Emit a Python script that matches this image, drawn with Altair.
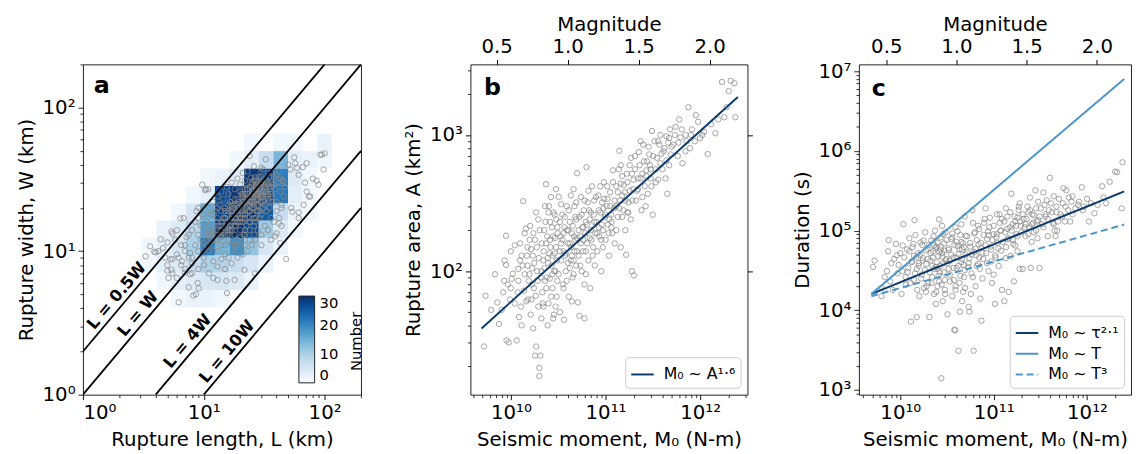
import altair as alt
import pandas as pd

FONT = "DejaVu Sans"
GREY = "#8a8a8a"
DARK = "#0c3b6e"
LIGHT = "#4a95c9"

# ---------------- Panel a : rupture length / width ----------------
bin_edges = [3.07, 4.06, 5.36, 7.08, 9.35, 12.36, 16.33, 21.58, 28.51, 37.67, 49.77, 65.77, 86.90, 114.8]
# counts[row][col]; rows from W=4.06 upward (bin_edges[1..11]), cols from L=3.07 (bin_edges[0..13])
hist_counts = [
    [0, 0, 1, 2, 2, 1, 0, 0, 0, 0, 0, 0, 0],
    [0, 1, 3, 4, 5, 5, 4, 2, 0, 0, 0, 0, 0],
    [1, 3, 4, 7, 10, 9, 7, 5, 2, 0, 0, 0, 0],
    [1, 3, 5, 10, 22, 14, 19, 12, 5, 2, 0, 0, 0],
    [0, 2, 4, 9, 17, 29, 30, 27, 11, 4, 1, 0, 0],
    [0, 0, 1, 5, 15, 28, 30, 30, 25, 7, 2, 1, 0],
    [0, 0, 0, 1, 3, 27, 29, 30, 28, 22, 3, 1, 0],
    [0, 0, 0, 0, 1, 2, 4, 29, 27, 21, 4, 1, 0],
    [0, 0, 0, 0, 0, 0, 1, 3, 7, 14, 3, 2, 1],
    [0, 0, 0, 0, 0, 0, 0, 1, 0, 1, 1, 0, 2],
]

a_L = ([4.4, 3.9, 4.2, 6.2, 8.2, 8.6, 15.6, 48, 95, 100, 98, 71, 80, 74, 67, 61, 26, 24, 9.7, 10.4, 6.4, 6.8, 5.4, 5.3]
       + [5.1, 8.9, 9.1, 7.5, 12, 13, 15.4, 18, 21.7, 26.5, 43, 39, 40, 44, 42, 54, 53, 61, 76, 71,
          69, 86, 92, 56, 57, 59, 66, 50, 52, 43, 45, 89, 61, 32.6, 30, 31, 24.6, 26.5, 10.3, 10.9,
          8.7, 9.0, 5.5, 4.0, 5.5, 6.2, 6.6, 7.7, 5.0, 5.4, 7.0, 7.7]
       + [8, 8.5, 9, 9.5, 10, 10, 10.5, 11, 11, 11.5, 12, 12, 12.5, 13, 13, 13.5, 14, 14, 14.5, 15,
          15, 15.5, 16, 16, 16.5, 17, 17, 17.5, 18, 18, 18.5, 19, 19, 19.5, 20, 20, 20.5, 21, 21, 21.5,
          22, 22, 22.5, 23, 23, 23.5, 24, 24, 24.5, 25, 25, 25.5, 26, 26, 26.5, 27, 27, 27.5, 28, 28,
          28.5, 29, 29, 29.5, 30, 30, 31, 31, 32, 32, 33, 33, 34, 34, 35, 35, 36, 37, 38, 39,
          40, 41, 42, 43, 44, 45, 46, 47]
       + [7, 7.5, 8, 8.5, 9, 9, 9.5, 10, 10.5, 11, 11.5, 12, 12.5, 13, 13.5, 14, 14.5, 15, 15.5, 16,
          16.5, 17, 18, 19, 20, 21, 22, 23]
       + [9, 10, 11, 12, 13, 14, 15, 16, 17, 18, 19, 20, 21, 22, 23, 24, 25, 26, 27, 28,
          30, 32, 34, 36, 38, 40, 42, 44, 36, 30]
       + [5, 5.5, 6, 6.5, 7, 7, 7.5, 8, 8, 6, 4.6, 5, 5.8, 6.5, 7.2, 6, 4.8, 3.6, 3.3]
       + [12, 13, 14, 15, 16, 17, 18, 19, 20, 21, 22, 23, 24, 25, 26, 27, 28, 29, 30, 31,
          32, 33, 34, 35, 36, 38, 40, 13, 15, 17, 19, 21, 23, 25, 27, 29, 31, 33, 35, 37]
       + [11, 12, 13, 14, 15, 16, 17, 18, 19, 20, 21, 22, 23, 24, 25, 26, 27, 28, 29, 30,
          14, 16, 18, 20, 22, 24, 26, 28, 30, 32, 10, 12, 14, 16, 18, 20, 22, 24, 26, 34]
       + [10.5, 11.5, 12.5, 13.5, 14.5, 15.5, 16.5, 17.5, 18.5, 19.5,
          20.5, 21.5, 22.5, 23.5, 24.5, 25.5, 26.5, 27.5, 28.5, 29.5,
          11, 13, 15, 17, 19, 21, 23, 25, 27, 29,
          12, 14, 16, 18, 20, 22, 24, 26, 28, 30,
          31, 33, 35, 32, 34, 36, 30, 28, 26, 24,
          13, 15, 17, 19, 21, 23, 25, 27, 22, 18])
a_W = ([12.1, 9.9, 10.0, 4.4, 4.9, 5.0, 5.1, 8.8, 47, 48, 37, 41, 32, 24, 21, 18.6, 39, 46, 29, 27, 16.9, 17, 13.7, 8.8]
       + [6.5, 6.0, 5.5, 5.6, 6.5, 6.3, 6.2, 6.3, 7.4, 7.0, 11.4, 12.7, 13.3, 15, 15.6, 18.8, 20, 17, 24, 26,
          30, 31, 47, 45, 41, 38, 38.5, 40, 37, 32, 31, 29, 34, 43.6, 38, 37, 32.6, 32.6, 26.6, 27,
          19, 20, 13.2, 9.8, 8.8, 9.0, 8.5, 9.7, 7.3, 7.4, 7.1, 6.9]
       + [9, 11, 10, 12, 9, 11.5, 13, 10, 14, 12, 11, 15, 13, 10, 16, 12.5, 14, 11, 17, 13,
          9.5, 15, 12, 18, 14, 16, 11, 20, 13, 17, 15, 19, 12, 22, 14, 17, 25, 16, 20, 13,
          18, 23, 15, 21, 27, 17, 19, 14, 24, 22, 30, 18, 20, 26, 16, 23, 29, 19, 25, 21,
          33, 17, 27, 22, 24, 30, 20, 26, 28, 23, 31, 19, 25, 35, 27, 22, 30, 24, 33, 27,
          22, 30, 36, 26, 20, 31, 24, 28]
       + [11, 13, 14, 16, 13, 17, 15, 18, 16, 20, 18, 22, 19, 24, 21, 26, 23, 20, 28, 25,
          22, 30, 27, 32, 29, 35, 31, 36]
       + [7.5, 8, 7, 8.5, 7.8, 8.8, 7.5, 9, 8.2, 10, 9, 11, 9.5, 11, 10, 12, 11, 13, 12, 14,
          13, 15, 14, 17, 16, 19, 17, 21, 12, 11]
       + [8, 7, 9.5, 8, 10, 7.5, 9, 7, 8.2, 6.5, 10.5, 11.5, 12, 11, 12.5, 14, 9, 10.8, 9.2]
       + [18, 20, 19, 17, 21, 19, 23, 21, 26, 24, 27, 25, 28, 26, 31, 28, 30, 25, 33, 29,
          32, 27, 30, 33, 26, 29, 34, 13, 11, 14, 16, 18, 19, 20, 17, 19, 22, 24, 20, 22]
       + [12.5, 14, 12, 16, 14.5, 13, 17.5, 15, 18, 16, 21, 17, 22, 19, 24, 21, 25, 23, 28, 26,
          15, 19, 21, 18, 25, 22, 27, 24, 29, 26, 10.5, 10, 12.5, 14.5, 11, 12.5, 14, 16, 15, 29]
       + [11, 13, 12, 15, 13.5, 16, 15, 18, 17, 20,
          19, 22, 20, 24, 22, 26, 24, 28, 26, 30,
          14, 15, 17, 19, 20, 22, 23, 25, 27, 28,
          12, 13, 14, 16, 16, 18, 21, 22, 23, 25,
          24, 26, 28, 21, 23, 25, 18, 19, 17, 16,
          17, 19, 21, 23, 25, 27, 29, 31, 13, 11])

# aspect-ratio reference lines  (L = ratio * W)
ratio_names = ["L = 0.5W", "L = W", "L = 4W", "L = 10W"]
ratios = [0.5, 1, 4, 10]
ratio_L_start = [1, 1, 4, 10]
ratio_L_end = [100, 200, 200, 200]
ratio_label_L = [2.2, 3.3, 8.5, 18]

# ---------------- Panel b : moment vs area ----------------
b_M0 = ([5.2e9, 5.4e9, 6.2e9, 7.2e9, 6.8e9, 7.5e9, 8.0e9, 8.3e9, 8.6e9, 8.9e9, 8.9e9, 8.5e9]
        + [9.0e9, 9.5e9, 1.0e10, 1.0e10, 1.05e10, 1.1e10, 1.15e10, 1.2e10, 9.8e9, 1.02e10, 1.1e10, 1.18e10, 1.22e10, 9.3e9, 1.25e10]
        + [1.3e10, 1.35e10, 1.4e10, 1.45e10, 1.5e10, 1.55e10, 1.6e10, 1.62e10, 1.7e10, 1.75e10, 1.8e10, 1.85e10, 1.9e10,
           1.95e10, 1.4e10, 1.5e10, 1.65e10, 1.72e10, 1.8e10, 2.0e10, 1.95e10, 1.3e10, 1.85e10, 1.58e10, 1.68e10]
        + [2.0e10, 2.05e10, 2.1e10, 2.15e10, 2.2e10, 2.25e10, 2.3e10, 2.35e10, 2.4e10, 2.45e10, 2.5e10, 2.55e10, 2.6e10,
           2.65e10, 2.7e10, 2.75e10, 2.8e10, 2.85e10, 2.9e10, 2.95e10, 3.0e10, 3.05e10, 3.1e10, 2.2e10, 2.3e10, 2.45e10,
           2.6e10, 2.75e10, 2.9e10, 3.1e10, 2.35e10, 2.5e10, 2.1e10, 2.8e10, 3.0e10]
        + [3.2e10, 3.3e10, 3.35e10, 3.4e10, 3.5e10, 3.55e10, 3.6e10, 3.65e10, 3.7e10, 3.8e10, 3.9e10, 4.0e10, 4.1e10,
           4.2e10, 4.3e10, 4.4e10, 4.5e10, 4.6e10, 4.7e10, 4.8e10, 4.9e10, 5.0e10, 3.4e10, 3.75e10, 4.05e10, 4.35e10,
           4.65e10, 3.9e10, 4.4e10, 3.3e10, 4.9e10, 3.6e10, 4.2e10, 4.6e10, 5.0e10]
        + [5.1e10, 5.2e10, 5.3e10, 5.4e10, 5.5e10, 5.6e10, 5.7e10, 5.8e10, 5.9e10, 6.0e10, 6.1e10, 6.2e10, 6.3e10,
           6.4e10, 6.5e10, 6.6e10, 6.8e10, 6.9e10, 7.0e10, 7.2e10, 7.4e10, 7.5e10, 7.7e10, 7.8e10, 5.3e10, 6.0e10,
           5.5e10, 6.7e10, 7.1e10, 7.6e10, 5.8e10, 6.2e10]
        + [8.0e10, 8.2e10, 8.4e10, 8.6e10, 8.8e10, 9.0e10, 9.2e10, 9.4e10, 9.6e10, 9.8e10, 1.0e11, 1.03e11, 1.06e11,
           1.09e11, 1.12e11, 1.15e11, 1.18e11, 1.2e11, 1.23e11, 1.25e11, 8.5e10, 9.5e10, 1.05e11, 1.15e11, 9.0e10, 1.1e11]
        + [1.3e11, 1.35e11, 1.4e11, 1.42e11, 1.45e11, 1.5e11, 1.55e11, 1.6e11, 1.65e11, 1.7e11, 1.75e11, 1.8e11,
           1.85e11, 1.9e11, 1.95e11, 2.0e11, 1.3e11, 1.5e11, 1.7e11, 1.9e11, 1.45e11, 1.62e11, 1.38e11]
        + [2.05e11, 2.1e11, 2.2e11, 2.3e11, 2.4e11, 2.5e11, 2.6e11, 2.7e11, 2.8e11, 2.9e11, 3.0e11, 3.1e11, 2.2e11,
           2.45e11, 2.75e11, 3.05e11, 2.35e11, 2.65e11, 2.95e11, 3.15e11]
        + [3.3e11, 3.5e11, 3.6e11, 3.8e11, 4.0e11, 4.2e11, 4.4e11, 4.5e11, 4.7e11, 4.9e11, 3.4e11, 3.9e11, 4.3e11,
           4.6e11, 3.7e11, 4.8e11]
        + [5.2e11, 5.5e11, 5.8e11, 6.2e11, 6.5e11, 7.0e11, 7.5e11, 7.8e11, 6.0e11, 7.2e11]
        + [8.2e11, 8.8e11, 9.5e11, 1.0e12, 1.1e12, 1.2e12, 9.0e11, 1.05e12]
        + [1.3e12, 1.45e12, 1.55e12, 1.7e12, 1.8e12, 2.0e12, 2.1e12, 2.3e12, 2.35e12, 1.9e12]
        + [1.2e10, 1.25e10, 1.28e10, 1.33e10, 1.38e10, 1.44e10, 1.48e10, 1.52e10, 1.57e10, 1.63e10,
           1.67e10, 1.73e10, 1.77e10, 1.83e10, 1.88e10, 1.92e10, 1.97e10, 2.02e10, 2.07e10, 2.12e10,
           2.17e10, 2.22e10, 2.27e10, 2.32e10, 2.37e10, 2.42e10, 2.47e10, 2.52e10, 2.57e10, 2.62e10,
           2.67e10, 2.72e10, 2.77e10, 2.82e10, 2.87e10, 2.92e10, 2.97e10, 3.02e10, 3.07e10, 3.12e10,
           3.2e10, 3.3e10, 3.4e10, 3.5e10, 3.6e10, 3.7e10, 3.8e10, 3.9e10, 4.0e10, 4.1e10,
           4.2e10, 4.3e10, 4.4e10, 4.5e10, 4.6e10, 4.7e10, 4.8e10, 4.9e10, 5.0e10, 5.2e10,
           5.4e10, 5.6e10, 5.8e10, 6.0e10, 6.2e10, 6.4e10, 6.6e10, 6.8e10, 7.0e10, 7.3e10,
           7.6e10, 7.9e10, 8.2e10, 8.5e10, 8.8e10, 9.1e10, 9.4e10, 9.7e10, 1.0e11, 1.04e11,
           1.08e11, 1.12e11, 1.16e11, 1.2e11, 1.25e11, 1.3e11, 1.35e11, 1.4e11, 1.45e11, 1.5e11,
           1.56e11, 1.62e11, 1.68e11, 1.74e11, 1.8e11, 1.86e11, 1.92e11, 1.98e11, 2.05e11, 2.15e11,
           2.25e11, 2.35e11, 2.45e11, 2.55e11, 2.7e11, 2.85e11, 3.0e11, 3.2e11, 3.4e11, 3.6e11,
           3.8e11, 4.1e11, 4.4e11, 4.7e11, 5.0e11, 5.4e11, 5.9e11, 6.4e11, 7.0e11, 8.0e11])
b_A = ([28, 66, 52, 59, 95, 41, 52, 70, 120, 182, 111, 85]
       + [31, 30, 75, 140, 96, 58, 31, 104, 62, 88, 155, 70, 46, 80, 120]
       + [40, 327, 190, 60, 110, 85, 215, 48, 130, 75, 170, 28, 100, 240, 95, 150, 62, 38, 24, 19.5, 55, 130, 270, 170, 105]
       + [17, 24, 45, 70, 120, 200, 300, 160, 90, 40, 58, 135, 230, 350, 110, 75, 180, 48, 260, 100,
          150, 65, 210, 55, 85, 125, 170, 95, 135, 85, 435, 270, 100, 45, 400]
       + [352, 50, 180, 120, 260, 80, 140, 44, 210, 100, 300, 160, 65, 230, 120, 190, 90, 400, 140, 250,
          110, 175, 160, 130, 200, 150, 180, 85, 60, 230, 320, 190, 105, 120, 524]
       + [59, 130, 250, 180, 350, 100, 210, 140, 280, 80, 190, 230, 580, 160, 320, 120, 240, 75, 200, 420,
          150, 260, 110, 190, 47, 45, 160, 280, 170, 330, 210, 95]
       + [230, 140, 360, 180, 270, 100, 320, 200, 450, 250, 170, 300, 220, 130, 380, 260, 190, 550, 290, 160,
          210, 290, 340, 210, 170, 240]
       + [420, 250, 766, 330, 150, 500, 280, 380, 132, 450, 320, 600, 240, 100, 400, 93, 300, 360, 270, 520, 440, 200, 560]
       + [700, 330, 480, 600, 280, 850, 420, 550, 370, 720, 480, 1070, 400, 520, 640, 420, 900, 300, 600, 260]
       + [900, 680, 470, 1000, 560, 800, 650, 370, 950, 720, 560, 730, 480, 880, 850, 1100]
       + [850, 1150, 700, 960, 620, 1000, 1600, 800, 1300, 900]
       + [1100, 900, 1250, 950, 1050, 725, 1400, 1000]
       + [1200, 1030, 1300, 2450, 1350, 2100, 2500, 2400, 1350, 1600]
       + [85, 160, 55, 110, 72, 205, 130, 62, 95, 145,
          80, 190, 115, 66, 150, 85, 125, 200, 90, 160,
          58, 140, 105, 230, 75, 180, 115, 300, 88, 150,
          65, 210, 130, 270, 100, 175, 55, 240, 120, 190,
          95, 140, 310, 170, 75, 250, 135, 200, 115, 280,
          160, 360, 130, 215, 95, 300, 170, 240, 140, 200,
          110, 260, 170, 330, 140, 220, 390, 175, 270, 130,
          230, 350, 190, 280, 420, 220, 150, 340, 260, 420,
          190, 300, 230, 450, 330, 200, 380, 290, 600, 250,
          430, 330, 520, 270, 390, 680, 330, 470, 560, 390,
          750, 480, 350, 640, 500, 820, 560, 700, 450, 900,
          620, 760, 980, 600, 820, 1000, 880, 1100, 760, 1000])

fit_b_M0 = [4.9e9, 2.5e12]
fit_b_A = [38, 1900]
fit_b_label = "M₀ ~ A¹·⁶"

# ---------------- Panel c : moment vs duration ----------------
c_M0 = ([5.1e9, 5.3e9, 6.3e9, 6.3e9, 7.2e9, 7.4e9, 7.5e9, 7.8e9, 6.8e9, 8.0e9]
        + [8.3e9, 8.6e9, 9.0e9, 9.3e9, 9.6e9, 1.0e10, 1.03e10, 1.06e10, 1.08e10, 1.1e10, 1.14e10, 1.18e10, 1.22e10,
           1.25e10, 9.2e9, 1.15e10, 1.05e10]
        + [1.3e10, 1.32e10, 1.35e10, 1.4e10, 1.45e10, 1.5e10, 1.55e10, 1.6e10, 1.65e10, 1.7e10, 1.75e10, 1.8e10,
           1.85e10, 1.9e10, 1.95e10, 2.0e10, 1.4e10, 1.58e10, 1.72e10, 1.88e10, 1.5e10, 1.42e10]
        + [2.05e10, 2.1e10, 2.15e10, 2.2e10, 2.25e10, 2.3e10, 2.35e10, 2.4e10, 2.45e10, 2.5e10, 2.55e10, 2.6e10,
           2.65e10, 2.7e10, 2.75e10, 2.8e10, 2.85e10, 2.9e10, 2.95e10, 3.0e10, 3.05e10, 3.1e10, 2.2e10, 2.4e10,
           2.6e10, 2.8e10, 3.0e10, 2.3e10, 2.7e10, 2.5e10]
        + [3.2e10, 3.3e10, 3.4e10, 3.5e10, 3.6e10, 3.7e10, 3.8e10, 3.85e10, 3.9e10, 4.0e10, 4.1e10, 4.2e10, 4.3e10,
           4.4e10, 4.5e10, 4.6e10, 4.7e10, 4.8e10, 4.9e10, 5.0e10, 3.4e10, 3.6e10, 3.9e10, 4.2e10, 4.5e10, 4.8e10,
           3.3e10, 4.0e10, 4.6e10, 3.75e10, 4.35e10, 4.95e10]
        + [5.2e10, 5.4e10, 5.5e10, 5.6e10, 5.8e10, 6.0e10, 6.1e10, 6.2e10, 6.4e10, 6.6e10, 6.8e10, 7.0e10, 7.2e10,
           7.4e10, 7.6e10, 7.8e10, 5.5e10, 5.9e10, 6.5e10, 7.1e10, 7.4e10, 5.3e10, 6.3e10, 6.9e10, 7.7e10, 5.7e10]
        + [8.0e10, 8.3e10, 8.5e10, 8.8e10, 9.0e10, 9.3e10, 9.6e10, 1.0e11, 1.03e11, 1.05e11, 1.08e11, 1.1e11,
           1.13e11, 1.16e11, 1.2e11, 1.23e11, 8.7e10, 9.5e10, 1.07e11, 1.18e11, 1.0e11, 8.2e10, 1.22e11]
        + [1.3e11, 1.33e11, 1.36e11, 1.4e11, 1.45e11, 1.5e11, 1.52e11, 1.55e11, 1.6e11, 1.65e11, 1.7e11, 1.75e11,
           1.8e11, 1.85e11, 1.9e11, 1.95e11, 1.4e11, 1.6e11, 1.8e11, 1.35e11, 1.7e11, 1.9e11]
        + [2.05e11, 2.1e11, 2.2e11, 2.3e11, 2.4e11, 2.5e11, 2.6e11, 2.7e11, 2.8e11, 2.9e11, 3.0e11, 3.1e11, 2.2e11,
           2.45e11, 2.65e11, 2.95e11, 2.35e11, 2.85e11, 3.1e11, 2.55e11]
        + [3.3e11, 3.5e11, 3.6e11, 3.8e11, 4.0e11, 4.2e11, 4.4e11, 4.5e11, 4.7e11, 4.9e11, 3.4e11, 3.9e11, 4.3e11,
           4.6e11, 3.7e11, 4.8e11]
        + [5.2e11, 5.5e11, 5.8e11, 6.0e11, 6.3e11, 6.6e11, 7.0e11, 7.5e11, 6.8e11, 5.6e11]
        + [8.2e11, 8.8e11, 9.3e11, 1.0e12, 1.05e12, 1.1e12, 1.2e12, 9.0e11]
        + [1.3e12, 1.45e12, 1.6e12, 1.75e12, 2.0e12, 2.1e12, 2.35e12, 2.4e12, 1.5e12]
        + [1.2e10, 1.25e10, 1.28e10, 1.33e10, 1.38e10, 1.44e10, 1.48e10, 1.52e10, 1.57e10, 1.63e10,
           1.67e10, 1.73e10, 1.77e10, 1.83e10, 1.88e10, 1.92e10, 1.97e10, 2.02e10, 2.07e10, 2.12e10,
           2.17e10, 2.22e10, 2.27e10, 2.32e10, 2.37e10, 2.42e10, 2.47e10, 2.52e10, 2.57e10, 2.62e10,
           2.67e10, 2.72e10, 2.77e10, 2.82e10, 2.87e10, 2.92e10, 2.97e10, 3.02e10, 3.07e10, 3.12e10,
           3.2e10, 3.3e10, 3.4e10, 3.5e10, 3.6e10, 3.7e10, 3.8e10, 3.9e10, 4.0e10, 4.1e10,
           4.2e10, 4.3e10, 4.4e10, 4.5e10, 4.6e10, 4.7e10, 4.8e10, 4.9e10, 5.0e10, 5.2e10,
           5.4e10, 5.6e10, 5.8e10, 6.0e10, 6.2e10, 6.4e10, 6.6e10, 6.8e10, 7.0e10, 7.3e10,
           7.6e10, 7.9e10, 8.2e10, 8.5e10, 8.8e10, 9.1e10, 9.4e10, 9.7e10, 1.0e11, 1.04e11,
           1.08e11, 1.12e11, 1.16e11, 1.2e11, 1.25e11, 1.3e11, 1.35e11, 1.4e11, 1.45e11, 1.5e11,
           1.56e11, 1.62e11, 1.68e11, 1.74e11, 1.8e11, 1.86e11, 1.92e11, 1.98e11, 2.05e11, 2.15e11,
           2.25e11, 2.35e11, 2.45e11, 2.55e11, 2.7e11, 2.85e11, 3.0e11, 3.2e11, 3.4e11, 3.6e11,
           3.8e11, 4.1e11, 4.4e11, 4.7e11, 5.0e11, 5.4e11, 5.9e11, 6.4e11, 7.0e11, 8.0e11])
c_T = ([3.5e4, 4.2e4, 1.9e4, 1.5e4, 3.1e4, 5.5e4, 7.6e4, 2.3e4, 2.6e4, 3.9e4]
       + [1.8e4, 4.4e4, 6.8e4, 2.9e4, 3.7e4, 5.2e4, 1.6e4, 6.5e4, 1.2e5, 4.6e4, 2.6e4, 5.8e4, 3.4e4, 8.0e4, 4.9e4, 2.1e4, 3.1e4]
       + [7.2e3, 4.1e4, 6.2e4, 2.4e4, 8.8e4, 3.3e4, 5.2e4, 1.5e4, 7.1e4, 2.8e4, 4.5e4, 1.9e4, 9.5e4, 3.8e4, 5.9e4,
          2.2e4, 4.8e4, 3.9e4, 6.6e4, 1.7e4, 8.2e3, 1.35e5]
       + [8.2e3, 4.2e4, 7.5e4, 2.6e4, 5.5e4, 1.6e4, 1.0e5, 3.5e4, 6.3e4, 2.0e4, 4.8e4, 1.38e5, 3.0e4, 8.2e4, 1.4e3,
          5.2e4, 1.3e4, 3.9e4, 6.9e4, 2.4e4, 9.5e4, 4.4e4, 3.6e4, 1.2e4, 2.3e4, 1.15e5, 1.8e4, 6.5e4, 5.8e4, 3.3e4]
       + [8.9e3, 5.7e4, 2.8e4, 7.8e4, 1.5e4, 4.6e4, 5.7e3, 5.6e3, 1.1e5, 3.4e4, 6.4e4, 3.1e3, 2.2e4, 8.8e4, 4.0e4,
          1.3e4, 6.9e4, 2.6e4, 1.5e5, 5.0e4, 4.2e4, 9.2e4, 1.8e4, 5.1e4, 1.2e5, 3.7e4, 3.3e4, 7.2e4, 5.8e4, 2.4e4,
          9.6e3, 1.9e4]
       + [8.5e4, 1.1e4, 4.5e4, 6.3e4, 2.9e4, 1.25e5, 3.1e3, 5.4e4, 2.0e4, 7.6e4, 3.8e4, 1.05e5, 1.4e4, 6.0e4, 2.5e4,
          8.8e4, 9.6e3, 1.8e5, 4.9e4, 3.3e4, 7.4e3, 3.5e4, 9.5e4, 6.7e4, 4.4e4, 1.6e4]
       + [1.4e5, 5.2e4, 7.8e4, 3.1e4, 1.1e5, 6.3e4, 2.2e4, 9.0e4, 1.2e4, 4.6e4, 1.6e5, 7.0e4, 3.6e4, 1.25e5, 5.6e4,
          1.8e4, 9.8e4, 4.1e4, 8.3e4, 1.0e5, 2.8e4, 1.9e5, 1.4e5]
       + [1.3e4, 9.5e4, 6.2e4, 1.5e5, 1.7e4, 1.1e5, 4.8e4, 2.9e5, 7.6e4, 2.3e4, 1.3e5, 9.0e4, 5.5e4, 1.8e5, 3.3e4,
          1.15e5, 7.8e4, 1.2e5, 1.45e5, 1.9e5, 6.5e4, 2.2e5]
       + [3.3e4, 1.4e5, 8.5e4, 2.0e5, 1.1e5, 3.4e4, 1.6e5, 9.5e4, 3.2e5, 1.3e5, 2.3e5, 3.4e4, 1.2e5, 2.6e5, 1.25e5,
          8.0e4, 1.7e5, 1.9e5, 1.5e5, 7.2e4]
       + [1.2e5, 2.1e5, 1.5e5, 8.5e4, 4.6e5, 1.7e5, 2.7e5, 1.0e5, 2.0e5, 1.3e5, 3.0e5, 1.8e5, 1.25e5, 8.5e4, 2.4e5, 1.0e5]
       + [1.6e5, 2.2e5, 1.3e5, 3.2e5, 1.8e5, 1.3e5, 2.7e5, 1.9e5, 2.3e5, 3.4e5]
       + [2.3e5, 3.5e5, 2.0e5, 2.5e5, 1.3e5, 2.2e5, 1.65e5, 1.8e5]
       + [2.1e5, 3.6e5, 2.2e5, 4.1e5, 5.5e5, 5.4e5, 1.9e5, 7.2e5, 2.6e5]
       + [3.0e4, 5.5e4, 2.2e4, 4.0e4, 6.8e4, 2.9e4, 4.6e4, 1.8e4, 3.6e4, 5.0e4,
          2.5e4, 4.2e4, 7.5e4, 3.2e4, 5.6e4, 2.0e4, 4.4e4, 6.6e4, 3.0e4, 5.2e4,
          2.2e4, 4.6e4, 8.5e4, 3.3e4, 6.0e4, 1.7e4, 4.0e4, 7.0e4, 2.7e4, 5.4e4,
          3.6e4, 6.3e4, 2.1e4, 4.7e4, 9.0e4, 3.0e4, 5.6e4, 1.6e4, 4.2e4, 7.6e4,
          3.9e4, 6.0e4, 2.3e4, 5.0e4, 8.2e4, 3.4e4, 6.6e4, 2.0e4, 4.6e4, 9.8e4,
          3.6e4, 5.8e4, 2.7e4, 7.2e4, 4.4e4, 1.7e4, 6.2e4, 3.2e4, 8.6e4, 5.3e4,
          3.9e4, 7.0e4, 5.0e4, 2.6e4, 9.2e4, 5.9e4, 3.6e4, 1.15e5, 4.6e4, 7.0e4,
          5.3e4, 1.25e5, 6.5e4, 3.9e4, 8.8e4, 1.45e5, 5.8e4, 7.6e4, 1.15e5, 4.9e4,
          9.0e4, 6.0e4, 1.6e5, 1.0e5, 7.2e4, 1.3e5, 4.5e4, 1.05e5, 8.0e4, 1.7e5,
          1.0e5, 6.8e4, 1.5e5, 1.15e5, 8.5e4, 2.0e5, 1.3e5, 9.5e4, 1.6e5, 1.1e5,
          1.4e5, 9.0e4, 1.8e5, 1.2e5, 1.55e5, 1.0e5, 1.35e5, 1.9e5, 1.1e5, 1.6e5,
          1.4e5, 2.2e5, 1.2e5, 1.7e5, 2.5e5, 1.5e5, 2.0e5, 2.6e5, 1.6e5, 2.1e5])

fit_c_labels = ["M₀ ~ τ²·¹", "M₀ ~ T", "M₀ ~ T³"]
fit_c_M0 = [4.9e9, 2.5e12]
fit_c_T = [[1.6e4, 3.1e5], [1.6e4, 8.0e6], [1.5e4, 1.19e5]]

mag_ticks = [0.5, 1.0, 1.5, 2.0]

# ---------------- helpers ----------------
SUP = {"0": "⁰", "1": "¹", "2": "²", "3": "³", "4": "⁴", "5": "⁵", "6": "⁶", "7": "⁷", "8": "⁸", "9": "⁹"}


def log_axis(exps, minors, title, orient, **kw):
    majors = [10.0 ** e for e in exps]
    vals = sorted(majors + minors)
    expr = " : ".join(
        "datum.value == %r ? '10%s'" % (m, "".join(SUP[c] for c in str(e))) for m, e in zip(majors, exps)
    ) + " : ''"
    test = "indexof([" + ",".join(repr(m) for m in majors) + "], datum.value) >= 0"
    return alt.Axis(
        values=vals, labelExpr=expr, orient=orient, title=title, grid=False, domain=False,
        labelOverlap=False, tickSize=5, labelPadding=3,
        tickDash={"condition": {"test": test, "value": [1, 0]}, "value": [3, 20]},
        tickWidth={"condition": {"test": test, "value": 1}, "value": 0.8},
        **kw,
    )


def minors_between(lo_exp, hi_exp, lo, hi):
    out = []
    for e in range(lo_exp, hi_exp + 1):
        for k in range(2, 10):
            v = k * 10.0 ** e
            if lo <= v <= hi:
                out.append(v)
    return out


def mag_layer(domain):
    df = pd.DataFrame({"mag": mag_ticks})
    return alt.Chart(df).mark_point(opacity=0).encode(
        x=alt.X("mag:Q", scale=alt.Scale(domain=domain, nice=False, zero=False),
                axis=alt.Axis(orient="top", values=mag_ticks, format=".1f", title="Magnitude",
                              grid=False, domain=False, tickSize=5, labelPadding=3,
                              titlePadding=2, labelFlush=False))
    )


PW_A, PW_B, PW_C, PH = 282, 281, 276, 335

# ---------------- Panel a ----------------
xa = alt.Scale(type="log", domain=[1, 200], nice=False)
ya = alt.Scale(type="log", domain=[1, 200], nice=False)
ax_a_x = log_axis([0, 1, 2], minors_between(0, 2, 1, 200), "Rupture length, L (km)", "bottom", titlePadding=8)
ax_a_y = log_axis([0, 1, 2], minors_between(0, 2, 1, 200), "Rupture width, W (km)", "left", titlePadding=6)

heat_rows = []
for r, row in enumerate(hist_counts):
    for c, n in enumerate(row):
        if n > 0:
            heat_rows.append({"x0": bin_edges[c], "x1": bin_edges[c + 1],
                              "y0": bin_edges[r + 1], "y1": bin_edges[r + 2], "n": n})
df_heat = pd.DataFrame(heat_rows)

blues = ["#f7fbff", "#deebf7", "#c6dbef", "#9ecae1", "#6baed6", "#4292c6", "#2171b5", "#08519c", "#08306b"]
blue_stops = [0, 3.75, 7.5, 11.25, 15, 18.75, 22.5, 26.25, 30]
cscale = alt.Scale(domain=blue_stops, range=blues, type="linear")

heat = alt.Chart(df_heat).mark_rect().encode(
    x=alt.X("x0:Q", scale=xa, axis=ax_a_x), x2="x1:Q",
    y=alt.Y("y0:Q", scale=ya, axis=ax_a_y), y2="y1:Q",
    color=alt.Color("n:Q", scale=cscale, legend=alt.Legend(
        type="gradient", orient="none", legendX=219, legendY=235, direction="vertical", gradientLength=88,
        gradientThickness=16, title=None,
        labelFontSize=15, values=[0, 10, 20, 30], gradientStrokeColor="#222", gradientStrokeWidth=1,
        labelOffset=5, labelFont=FONT)),
)

df_a = pd.DataFrame({"L": a_L, "W": a_W})
pts_a = alt.Chart(df_a).mark_point(shape="circle", filled=False, color=GREY, size=30,
                                   strokeWidth=0.9, opacity=0.85).encode(
    x=alt.X("L:Q", scale=xa, axis=ax_a_x), y=alt.Y("W:Q", scale=ya, axis=ax_a_y))

line_rows = []
for name, rt, l0, l1 in zip(ratio_names, ratios, ratio_L_start, ratio_L_end):
    line_rows.append({"name": name, "L": l0, "W": l0 / rt})
    line_rows.append({"name": name, "L": l1, "W": l1 / rt})
df_lines = pd.DataFrame(line_rows)
lines_a = alt.Chart(df_lines).mark_line(color="black", strokeWidth=1.8, clip=True).encode(
    x=alt.X("L:Q", scale=xa, axis=ax_a_x), y=alt.Y("W:Q", scale=ya, axis=ax_a_y), detail="name:N")

df_lbl = pd.DataFrame({"name": ratio_names, "L": ratio_label_L,
                       "W": [l / r for l, r in zip(ratio_label_L, ratios)]})
lbl_a = alt.Chart(df_lbl).mark_text(angle=310, align="center", baseline="bottom", dy=-2,
                                    fontWeight="bold", fontSize=16.5, font=FONT, color="black").encode(
    x=alt.X("L:Q", scale=xa, axis=ax_a_x), y=alt.Y("W:Q", scale=ya, axis=ax_a_y), text="name:N")

let_a = alt.Chart(pd.DataFrame({"L": [1.23], "W": [127], "t": ["a"]})).mark_text(
    align="left", baseline="alphabetic", fontWeight="bold", fontSize=24, font=FONT, color="black").encode(
    x=alt.X("L:Q", scale=xa, axis=ax_a_x), y=alt.Y("W:Q", scale=ya, axis=ax_a_y), text="t:N")

cbar_title = alt.Chart(pd.DataFrame({"L": [183], "W": [2.35], "t": ["Number"]})).mark_text(
    angle=270, align="center", baseline="middle", fontSize=15, font=FONT, color="black").encode(
    x=alt.X("L:Q", scale=xa, axis=ax_a_x), y=alt.Y("W:Q", scale=ya, axis=ax_a_y), text="t:N")

pa = alt.layer(heat, pts_a, lines_a, lbl_a, let_a, cbar_title).properties(width=PW_A, height=PH)

# ---------------- Panel b ----------------
MB = [3.74e9, 3.16e12]
xb = alt.Scale(type="log", domain=MB, nice=False)
yb = alt.Scale(type="log", domain=[12.4, 3300], nice=False)
ax_b_x = log_axis([10, 11, 12], minors_between(9, 12, MB[0], MB[1]), "Seismic moment, M₀ (N-m)", "bottom", titlePadding=8)
ax_b_y = log_axis([2, 3], minors_between(1, 3, 12.4, 3300), "Rupture area, A (km²)", "left", titlePadding=6)

df_b = pd.DataFrame({"M0": b_M0, "A": b_A})
pts_b = alt.Chart(df_b).mark_point(shape="circle", filled=False, color=GREY, size=30,
                                   strokeWidth=0.9, opacity=0.85).encode(
    x=alt.X("M0:Q", scale=xb, axis=ax_b_x), y=alt.Y("A:Q", scale=yb, axis=ax_b_y))

df_fb = pd.DataFrame({"M0": fit_b_M0, "A": fit_b_A, "lab": [fit_b_label] * 2})
fit_b = alt.Chart(df_fb).mark_line(strokeWidth=2).encode(
    x=alt.X("M0:Q", scale=xb, axis=ax_b_x),
    y=alt.Y("A:Q", scale=yb, axis=alt.Axis(orient="right", values=[100, 1000], labels=False, title=None,
                                           grid=False, domain=False, tickSize=5)),
    color=alt.Color("lab:N", scale=alt.Scale(domain=[fit_b_label], range=[DARK]), legend=alt.Legend(
        title=None, orient="bottom-right", offset=7, fillColor="white", strokeColor="#cccccc",
        cornerRadius=4, padding=5, labelFontSize=16, labelFont=FONT, symbolType="stroke",
        symbolSize=520, symbolStrokeWidth=2, labelOffset=9)),
)

let_b = alt.Chart(pd.DataFrame({"M0": [5.2e9], "A": [1970], "t": ["b"]})).mark_text(
    align="left", baseline="alphabetic", fontWeight="bold", fontSize=24, font=FONT, color="black").encode(
    x=alt.X("M0:Q", scale=xb, axis=ax_b_x), y=alt.Y("A:Q", scale=yb, axis=None), text="t:N")

pb = alt.layer(
    alt.layer(pts_b, fit_b, let_b).resolve_axis(y="independent"),
    mag_layer([0.315, 2.267]),
).resolve_scale(x="independent").properties(width=PW_B, height=PH)

# ---------------- Panel c ----------------
MC = [3.6e9, 2.96e12]
xc = alt.Scale(type="log", domain=MC, nice=False)
yc = alt.Scale(type="log", domain=[871, 1.22e7], nice=False)
ax_c_x = log_axis([10, 11, 12], minors_between(9, 12, MC[0], MC[1]), "Seismic moment, M₀ (N-m)", "bottom", titlePadding=8)
ax_c_y = log_axis([3, 4, 5, 6, 7], minors_between(2, 7, 871, 1.22e7), "Duration (s)", "left", titlePadding=6)

df_c = pd.DataFrame({"M0": c_M0, "T": c_T})
pts_c = alt.Chart(df_c).mark_point(shape="circle", filled=False, color=GREY, size=30,
                                   strokeWidth=0.9, opacity=0.85).encode(
    x=alt.X("M0:Q", scale=xc, axis=ax_c_x), y=alt.Y("T:Q", scale=yc, axis=ax_c_y))

fc_rows = []
for lab, tt in zip(fit_c_labels, fit_c_T):
    for m, t in zip(fit_c_M0, tt):
        fc_rows.append({"lab": lab, "M0": m, "T": t})
df_fc = pd.DataFrame(fc_rows)
leg_c = alt.Legend(title=None, orient="bottom-right", offset=7, fillColor="white", strokeColor="#cccccc",
                   cornerRadius=4, padding=5, labelFontSize=16, labelFont=FONT, symbolType="stroke",
                   symbolSize=520, symbolStrokeWidth=2, labelOffset=9, rowPadding=0)
fit_c = alt.Chart(df_fc).mark_line(strokeWidth=2).encode(
    x=alt.X("M0:Q", scale=xc, axis=ax_c_x), y=alt.Y("T:Q", scale=yc, axis=ax_c_y),
    color=alt.Color("lab:N", scale=alt.Scale(domain=fit_c_labels, range=[DARK, LIGHT, LIGHT]), legend=leg_c),
    strokeDash=alt.StrokeDash("lab:N", scale=alt.Scale(domain=fit_c_labels, range=[[1, 0], [1, 0], [7, 4]]),
                              legend=leg_c),
)

let_c = alt.Chart(pd.DataFrame({"M0": [4.95e9], "T": [4.9e6], "t": ["c"]})).mark_text(
    align="left", baseline="alphabetic", fontWeight="bold", fontSize=24, font=FONT, color="black").encode(
    x=alt.X("M0:Q", scale=xc, axis=ax_c_x), y=alt.Y("T:Q", scale=yc, axis=ax_c_y), text="t:N")

pc = alt.layer(
    alt.layer(pts_c, fit_c, let_c),
    mag_layer([0.305, 2.243]),
).resolve_scale(x="independent").properties(width=PW_C, height=PH)

chart = alt.hconcat(pa, pb, pc, spacing=39).resolve_scale(
    color="independent", strokeDash="independent"
).resolve_legend(
    color="independent", strokeDash="independent"
).properties(
    padding={"left": 8, "top": 3, "right": 0, "bottom": 0}
).configure_view(stroke="#222222", strokeWidth=1).configure_axis(
    labelFont=FONT, titleFont=FONT, labelFontSize=20, titleFontSize=20, titleFontWeight="normal",
    labelColor="black", titleColor="black", tickColor="black",
).configure_legend(labelFont=FONT, titleFont=FONT, labelColor="black", titleColor="black")

chart.save("out.html", embed_options={"renderer": "svg", "actions": False})
